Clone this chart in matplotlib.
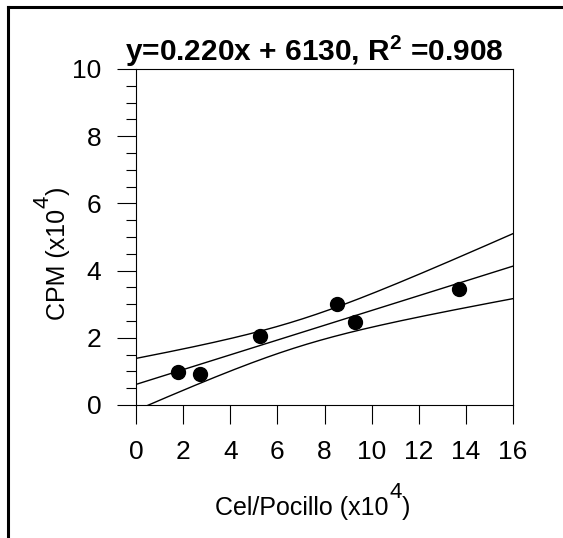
import numpy as np
import matplotlib.pyplot as plt
from matplotlib.lines import Line2D
from matplotlib.ticker import MultipleLocator

plt.rcParams.update({'font.family': 'Liberation Sans',
                     'mathtext.fontset': 'custom',
                     'mathtext.rm': 'Liberation Sans',
                     'mathtext.bf': 'Liberation Sans:bold',
                     'mathtext.it': 'Liberation Sans:italic'})

# cells per well (x10^4) vs CPM (x10^4)
cel = [1.77, 2.71, 5.26, 8.52, 9.28, 13.69]
cpm = [0.97, 0.93, 2.04, 3.01, 2.47, 3.45]
slope, intercept, r2 = 0.220, 0.613, 0.908
title = r'y=0.220x + 6130, R$^{\mathbf{2}}$ =0.908'

x = np.array(cel)
y = np.array(cpm)
n = len(x)
xx = np.linspace(0, 16, 200)
fit = intercept + slope * xx
resid = y - (intercept + slope * x)
s = np.sqrt(np.sum(resid**2) / (n - 2))
sxx = np.sum((x - x.mean())**2)
t = 2.776  # t(0.975, 4)
half = t * s * np.sqrt(1.0 / n + (xx - x.mean())**2 / sxx)

W, H = 563, 538
fig = plt.figure(figsize=(W / 100, H / 100), dpi=100)
ax = fig.add_axes([136 / W, 1 - 405 / H, (513 - 136) / W, (405 - 69) / H])

ax.plot(xx, fit, color='black', lw=1)
ax.plot(xx, fit + half, color='black', lw=1)
ax.plot(xx, fit - half, color='black', lw=1)
ax.plot(x, y, 'o', color='black', markersize=10, clip_on=False)

ax.set_xlim(0, 16)
ax.set_ylim(0, 10)
ax.xaxis.set_major_locator(MultipleLocator(2))
ax.yaxis.set_major_locator(MultipleLocator(2))
ax.yaxis.set_minor_locator(MultipleLocator(0.5))
ax.tick_params(axis='both', which='major', direction='out', length=14, width=0.8,
               labelsize=19, pad=11)
ax.tick_params(axis='y', which='minor', direction='out', length=7, width=0.8)
for sp in ax.spines.values():
    sp.set_linewidth(0.8)

ax.text(0.4736, 1.0, title, transform=ax.transAxes, ha='center', va='bottom',
        fontsize=21.5, fontweight='bold')

# axis labels with a large raised exponent
fs = 18
xl = fig.text(215 / W, 1 - 520 / H, 'Cel/Pocillo (x10', fontsize=fs,
              ha='left', va='bottom')
x4 = ax.annotate('4', xy=(1, 0), xycoords=xl, xytext=(0.5, 12),
                 textcoords='offset points', fontsize=16, ha='left', va='bottom')
ax.annotate(')', xy=(1, 0), xycoords=(x4, xl), xytext=(0.5, 0),
            textcoords='offset points', fontsize=fs, ha='left', va='bottom')

yl = fig.text(70 / W, 1 - 320 / H, 'CPM (x10', fontsize=fs, rotation=90,
              ha='right', va='bottom')
y4 = ax.annotate('4', xy=(1, 1), xycoords=yl, xytext=(-12, 0.5),
                 textcoords='offset points', fontsize=16, rotation=90,
                 ha='right', va='bottom')
ax.annotate(')', xy=(1, 1), xycoords=(yl, y4), xytext=(0, 0.5),
            textcoords='offset points', fontsize=fs, rotation=90,
            ha='right', va='bottom')

# outer frame (left and top)
fig.add_artist(Line2D([8 / W, 8 / W], [0, 1 - 7 / H], color='black', lw=2.2,
                      transform=fig.transFigure))
fig.add_artist(Line2D([8 / W, 1], [1 - 7 / H, 1 - 7 / H], color='black', lw=2.2,
                      transform=fig.transFigure))

fig.savefig('out.png', dpi=100)
